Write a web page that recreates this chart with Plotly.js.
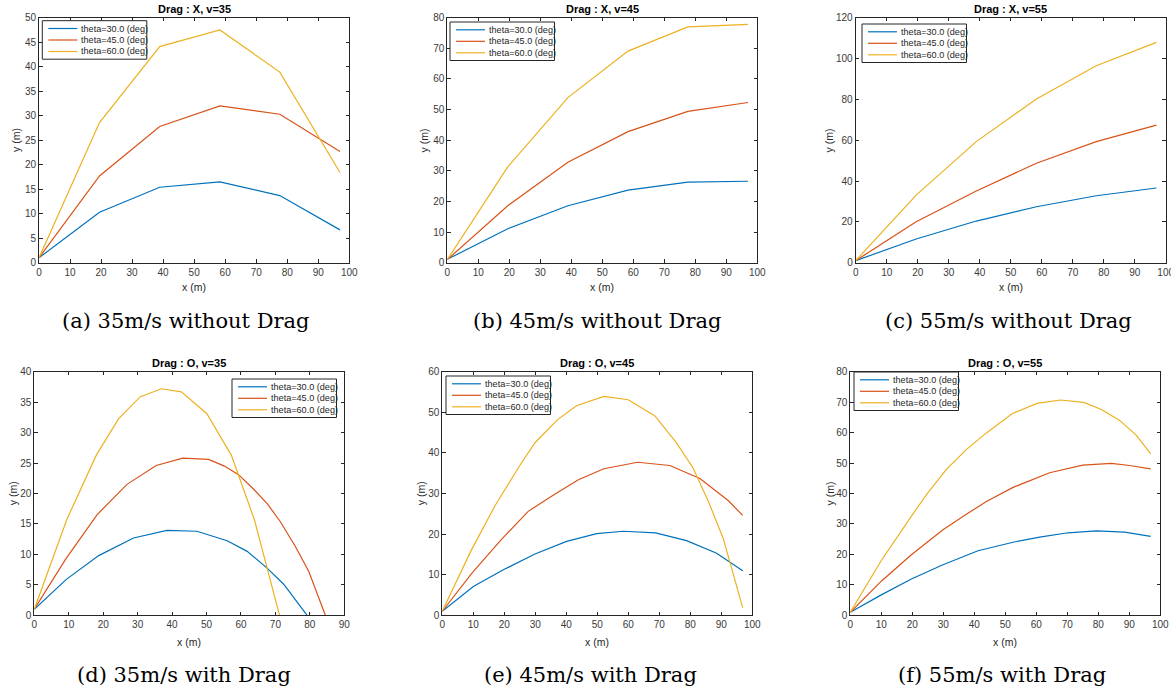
<!DOCTYPE html>
<html>
<head>
<meta charset="utf-8">
<script src="https://cdn.plot.ly/plotly-3.0.1.min.js"></script>
<style>html,body{margin:0;padding:0;background:#fff;}#chart{width:1171px;height:688px;}</style>
</head>
<body>
<div id="chart"></div>
<script>
// ---------- data ----------
const seriesNames = ["theta=30.0 (deg)", "theta=45.0 (deg)", "theta=60.0 (deg)"];
const panelTitles = ["Drag : X, v=35", "Drag : X, v=45", "Drag : X, v=55", "Drag : O, v=35", "Drag : O, v=45", "Drag : O, v=55"];
const captions = ["(a) 35m/s without Drag", "(b) 45m/s without Drag", "(c) 55m/s without Drag", "(d) 35m/s with Drag", "(e) 45m/s with Drag", "(f) 55m/s with Drag"];

// without drag (same x samples for every angle)
const xNoDrag = [0, 19.5, 38.9, 58.3, 77.6, 97.0];
const a30 = [1, 10.3, 15.4, 16.5, 13.7, 6.7];
const a45 = [1, 17.7, 27.8, 32.0, 30.3, 22.7];
const a60 = [1, 28.6, 44.1, 47.5, 38.9, 18.4];
const b30 = [1.1, 11.1, 18.6, 23.7, 26.3, 26.6];
const b45 = [1, 18.6, 32.8, 42.8, 49.4, 52.3];
const b60 = [1, 31.3, 53.9, 69.1, 77.0, 77.8];
const c30 = [1, 11.6, 20.4, 27.4, 32.8, 36.6];
const c45 = [1, 20.1, 35.1, 48.7, 59.3, 67.4];
const c60 = [1, 33.1, 59.3, 80.2, 96.5, 107.9];

// with drag
const d30x = [0, 9.3, 18.7, 28.8, 38.5, 47.2, 56.0, 61.8, 67.6, 72.4, 79.2];
const d30y = [1, 5.9, 9.8, 12.7, 13.95, 13.8, 12.25, 10.5, 7.75, 5.1, 0];
const d45x = [0, 9.2, 18.2, 26.9, 35.4, 43.1, 50.6, 55.2, 59.3, 63.7, 67.8, 71.4, 75.8, 79.7, 84.5];
const d45y = [1, 9.3, 16.5, 21.5, 24.6, 25.8, 25.6, 24.5, 23.1, 20.7, 18.2, 15.4, 11.3, 7.2, 0];
const d60x = [0, 9.5, 18.0, 24.5, 30.8, 36.9, 42.7, 50.1, 57.2, 63.9, 71.2];
const d60y = [1, 15.8, 26.3, 32.3, 35.9, 37.2, 36.7, 33.1, 26.3, 15.7, 0];

const e30x = [0, 10, 19.7, 29.9, 40.1, 49.8, 58.4, 68.8, 78.8, 88.5, 96.9];
const e30y = [1, 7.1, 11.2, 15.1, 18.2, 20.1, 20.7, 20.3, 18.4, 15.3, 11.0];
const e45x = [0, 9.5, 19.1, 27.7, 36.0, 43.9, 52.1, 63.0, 73.4, 83.1, 92.3, 96.9];
const e45y = [1, 10.3, 18.7, 25.6, 29.7, 33.4, 36.1, 37.7, 36.9, 33.7, 28.2, 24.6];
const e60x = [0, 9, 17, 25, 29.9, 37.2, 43.3, 52.1, 60.0, 68.6, 75.6, 80.9, 85.8, 90.6, 96.9];
const e60y = [1, 15.5, 27, 36.9, 42.5, 48.2, 51.6, 53.9, 53.1, 49.1, 42.4, 36.3, 28.1, 19, 1.9];

const f30x = [0, 10, 19.7, 29.9, 41.2, 52.5, 61.1, 70.2, 79.4, 88.5, 96.9];
const f30y = [1, 6.7, 11.9, 16.6, 21.2, 24.0, 25.7, 27.1, 27.7, 27.3, 25.9];
const f45x = [0, 10, 19.7, 29.9, 37.2, 43.9, 52.5, 64.3, 75.0, 84.2, 90.1, 96.9];
const f45y = [1, 11.2, 19.9, 28.1, 33.0, 37.4, 42.0, 46.8, 49.3, 49.9, 49.2, 48.1];
const f60x = [0, 10, 20, 25, 31, 37.4, 43.9, 52.2, 60.2, 67.8, 75.3, 81, 86.9, 92.3, 96.9];
const f60y = [1, 18, 33, 40.2, 47.9, 54.4, 59.9, 66.2, 69.6, 70.7, 69.9, 67.6, 64.0, 59.1, 53.0];

const xTickVals = [[0,10,20,30,40,50,60,70,80,90,100],[0,10,20,30,40,50,60,70,80,90,100],[0,10,20,30,40,50,60,70,80,90,100],[0,10,20,30,40,50,60,70,80,90],[0,10,20,30,40,50,60,70,80,90,100],[0,10,20,30,40,50,60,70,80,90,100]];
const yTickVals = [[0,5,10,15,20,25,30,35,40,45,50],[0,10,20,30,40,50,60,70,80],[0,20,40,60,80,100,120],[0,5,10,15,20,25,30,35,40],[0,10,20,30,40,50,60],[0,10,20,30,40,50,60,70,80]];

const colors = ["#0072BD", "#D95319", "#EDB120"];

// ---------- layout geometry (pixels) ----------
const W = 1171, H = 688;
const boxes = [
  {l: 39, r: 349.3, t: 17.7, b: 262.7},
  {l: 447.3, r: 757.3, t: 17.7, b: 262.7},
  {l: 855.7, r: 1165.7, t: 17.7, b: 262.7},
  {l: 34.3, r: 344.3, t: 371.7, b: 615.3},
  {l: 442.3, r: 752.3, t: 371.7, b: 615.3},
  {l: 850.3, r: 1160.3, t: 371.7, b: 615.3}
];
const legendPos = [[42.3, 20.7], [450, 22], [862, 24], [232, 379], [446, 376], [854, 372]];
const legW = 104.5, legH = 38.5, legRows = [7.8, 19.3, 30.8];
const yTitleX = [15.7, 424.3, 829.3, 12.7, 420.7, 829];
const captionX = [186, 597, 1008, 184, 590, 1002];
const captionY = [321, 321, 321, 675, 675, 675];
const titleY = [9, 9, 9, 363, 363, 363];
const xTitleY = [287, 287, 287, 641.5, 641.5, 641.5];

const panelData = [
  [[xNoDrag, a30], [xNoDrag, a45], [xNoDrag, a60]],
  [[xNoDrag, b30], [xNoDrag, b45], [xNoDrag, b60]],
  [[xNoDrag, c30], [xNoDrag, c45], [xNoDrag, c60]],
  [[d30x, d30y], [d45x, d45y], [d60x, d60y]],
  [[e30x, e30y], [e45x, e45y], [e60x, e60y]],
  [[f30x, f30y], [f45x, f45y], [f60x, f60y]]
];

const traces = [];
const layout = {
  width: W, height: H,
  margin: {l: 0, r: 0, t: 0, b: 0},
  paper_bgcolor: "#fff", plot_bgcolor: "#fff",
  showlegend: false,
  font: {family: "Liberation Sans, Arial, sans-serif", color: "#262626"},
  annotations: [],
  shapes: []
};

const axisColor = "#262626";
const px = v => v / W, py = v => 1 - v / H;
for (let p = 0; p < 6; p++) {
  const n = p === 0 ? "" : String(p + 1);
  const bx = boxes[p];
  const xv = xTickVals[p], yv = yTickVals[p];
  for (let s = 0; s < 3; s++) {
    traces.push({
      type: "scatter", mode: "lines",
      x: panelData[p][s][0], y: panelData[p][s][1],
      name: seriesNames[s],
      line: {color: colors[s], width: 1.2},
      xaxis: "x" + n, yaxis: "y" + n,
      hoverinfo: "skip"
    });
  }
  const common = {
    showline: true, linecolor: axisColor, linewidth: 1, mirror: "ticks",
    ticks: "inside", ticklen: 3.5, tickcolor: axisColor, tickwidth: 1,
    showgrid: false, zeroline: false, fixedrange: true,
    tickfont: {size: 10, color: "#3a3a3a", family: "Liberation Sans, Arial, sans-serif"},
    tickmode: "array", ticklabeloverflow: "allow"
  };
  layout["xaxis" + n] = Object.assign({}, common, {
    domain: [px(bx.l), px(bx.r)],
    range: [xv[0], xv[xv.length - 1]],
    tickvals: xv, ticktext: xv.map(String),
    anchor: "y" + n
  });
  layout["yaxis" + n] = Object.assign({}, common, {
    domain: [py(bx.b), py(bx.t)],
    range: [yv[0], yv[yv.length - 1]],
    tickvals: yv, ticktext: yv.map(String),
    anchor: "x" + n
  });

  // legend box (MATLAB-style compact legend)
  const L = legendPos[p][0], T = legendPos[p][1];
  layout.shapes.push({
    type: "rect", xref: "paper", yref: "paper", layer: "above",
    x0: px(L), x1: px(L + legW), y0: py(T + legH), y1: py(T),
    fillcolor: "#fff", line: {color: axisColor, width: 1}
  });
  for (let s = 0; s < 3; s++) {
    const yy = py(T + legRows[s]);
    layout.shapes.push({
      type: "line", xref: "paper", yref: "paper", layer: "above",
      x0: px(L + 6), x1: px(L + 35), y0: yy, y1: yy,
      line: {color: colors[s], width: 1.2}
    });
    layout.annotations.push({
      text: seriesNames[s], xref: "paper", yref: "paper",
      x: px(L + 36.5), y: yy, xanchor: "left", yanchor: "middle",
      showarrow: false, font: {size: 9.1, color: "#262626"}
    });
  }

  const cx = px((bx.l + bx.r) / 2);
  layout.annotations.push({
    text: "<b>" + panelTitles[p] + "</b>", xref: "paper", yref: "paper",
    x: cx, y: py(titleY[p]), xanchor: "center", yanchor: "middle",
    showarrow: false, font: {size: 11, color: "#000", family: "Liberation Sans, Arial, sans-serif"}
  });
  layout.annotations.push({
    text: "x (m)", xref: "paper", yref: "paper",
    x: cx, y: py(xTitleY[p]), xanchor: "center", yanchor: "middle",
    showarrow: false, font: {size: 10.5, color: "#262626"}
  });
  layout.annotations.push({
    text: "y (m)", xref: "paper", yref: "paper", textangle: -90,
    x: px(yTitleX[p]), y: py((bx.t + bx.b) / 2), xanchor: "center", yanchor: "middle",
    showarrow: false, font: {size: 10.5, color: "#262626"}
  });
  layout.annotations.push({
    text: captions[p], xref: "paper", yref: "paper",
    x: px(captionX[p]), y: py(captionY[p]), xanchor: "center", yanchor: "middle",
    showarrow: false, font: {size: 21, color: "#000", family: "DejaVu Serif, Liberation Serif, serif"}
  });
}

Plotly.newPlot("chart", traces, layout, {staticPlot: true, displayModeBar: false});
</script>
</body>
</html>
